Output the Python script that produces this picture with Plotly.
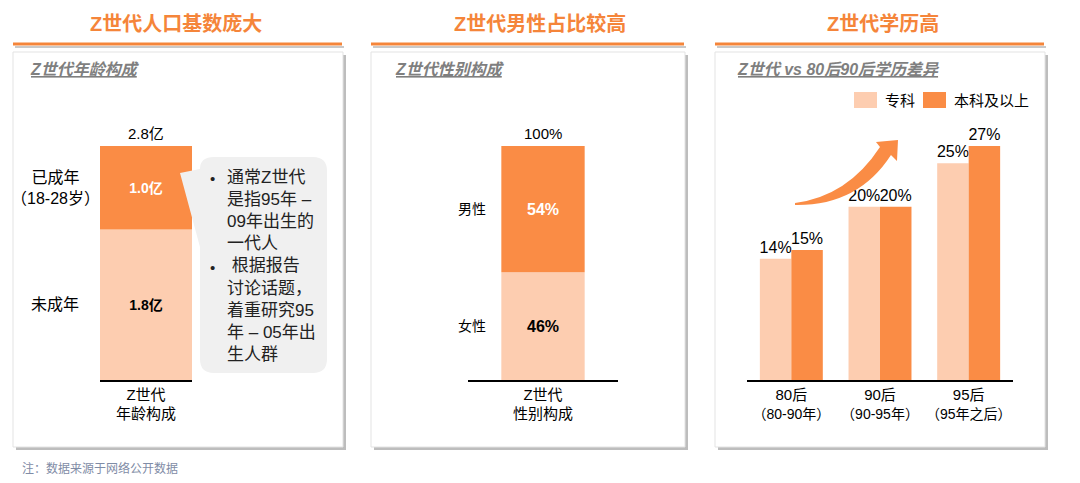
import plotly.graph_objects as go

# the page body keeps its default 8px margin, so the figure is shifted by that much
OFF = 8
W, H = 1080 - OFF, 483 - OFF
FONT = "Liberation Sans, Noto Sans CJK SC, sans-serif"
DARK = "#FA8C45"
LIGHT = "#FDCDB0"
TITLE_ORANGE = "#F5853A"
GREY = "#7F7F7F"

# panel 1: age structure (亿)
age_groups = ["未成年", "已成年"]
age_values = [1.8, 1.0]
age_total = 2.8
age_side_labels = ["未成年", "已成年<br>（18-28岁）"]

# panel 2: gender structure (%)
gender_groups = ["女性", "男性"]
gender_values = [46, 54]
gender_total = 100

# panel 3: education
edu_cats = ["80后", "90后", "95后"]
edu_sub = ["（80-90年）", "（90-95年）", "（95年之后）"]
edu_series = ["专科", "本科及以上"]
edu_zk = [14, 20, 25]
edu_bk = [15, 20, 27]

titles = ["Z世代人口基数庞大", "Z世代男性占比较高", "Z世代学历高"]
subtitles = ["Z世代年龄构成", "Z世代性别构成", "Z世代 vs 80后90后学历差异"]
callout_lines = ["通常Z世代", "是指95年 –", "09年出生的", "一代人",
                 " 根据报告", "讨论话题，", "着重研究95", "年 – 05年出", "生人群"]
note = "注：数据来源于网络公开数据"


def px(x):
    return (x - OFF) / W


def py(y):
    return 1 - (y - OFF) / H


def path(cmds):
    # cmds: list of (letter, [x, y, x, y...]) in page pixels
    out = []
    for c, pts in cmds:
        if c == "Z":
            out.append("Z")
            continue
        coords = []
        for i in range(0, len(pts), 2):
            coords.append(f"{px(pts[i]):.5f},{py(pts[i + 1]):.5f}")
        out.append(c + " ".join(coords))
    return " ".join(out)


def note_at(x, y, text, size, color="black", xanchor="center", **kw):
    fig.add_annotation(x=px(x), y=py(y), xref="paper", yref="paper", showarrow=False,
                       xanchor=xanchor, yanchor="middle", text=text,
                       font=dict(size=size, color=color), **kw)


fig = go.Figure()

# --- panel 1
fig.add_trace(go.Bar(
    x=[0], y=[age_values[0]], width=[1], offset=[-0.5],
    marker=dict(color=LIGHT, line=dict(width=0)),
    text=[f"<b>{age_values[0]:.1f}亿</b>"], textposition="inside",
    insidetextanchor="middle", textfont=dict(size=14, color="black", family=FONT),
    xaxis="x", yaxis="y", showlegend=False, name=age_groups[0]))
fig.add_trace(go.Bar(
    x=[0], y=[age_values[1]], base=[age_values[0]], width=[1], offset=[-0.5],
    marker=dict(color=DARK, line=dict(width=0)),
    text=[f"<b>{age_values[1]:.1f}亿</b>"], textposition="inside",
    insidetextanchor="middle", textfont=dict(size=14, color="white", family=FONT),
    xaxis="x", yaxis="y", showlegend=False, name=age_groups[1]))

# --- panel 2
fig.add_trace(go.Bar(
    x=[0], y=[gender_values[0]], width=[1], offset=[-0.5],
    marker=dict(color=LIGHT, line=dict(width=0)),
    text=[f"<b>{gender_values[0]}%</b>"], textposition="inside",
    insidetextanchor="middle", textfont=dict(size=16, color="black", family=FONT),
    xaxis="x2", yaxis="y2", showlegend=False, name=gender_groups[0]))
fig.add_trace(go.Bar(
    x=[0], y=[gender_values[1]], base=[gender_values[0]], width=[1], offset=[-0.5],
    marker=dict(color=DARK, line=dict(width=0)),
    text=[f"<b>{gender_values[1]}%</b>"], textposition="inside",
    insidetextanchor="middle", textfont=dict(size=16, color="white", family=FONT),
    xaxis="x2", yaxis="y2", showlegend=False, name=gender_groups[1]))

# --- panel 3
for vals, color, name in [(edu_zk, LIGHT, edu_series[0]), (edu_bk, DARK, edu_series[1])]:
    fig.add_trace(go.Bar(
        x=edu_cats, y=vals, name=name,
        marker=dict(color=color, line=dict(width=0)),
        text=[f"{v}%" for v in vals], textposition="outside",
        constraintext="none", cliponaxis=False,
        textfont=dict(size=16, color="black", family=FONT),
        xaxis="x3", yaxis="y3", showlegend=False))

y_dom = [py(380), py(146)]
base_x = dict(showline=True, linecolor="black", linewidth=1.5, showgrid=False,
              zeroline=False, ticks="", tickfont=dict(size=15, color="black", family=FONT),
              fixedrange=True)
base_y = dict(visible=False, showgrid=False, zeroline=False, fixedrange=True)

fig.update_layout(
    width=W, height=H, margin=dict(l=0, r=0, t=0, b=0),
    paper_bgcolor="white", plot_bgcolor="rgba(0,0,0,0)",
    barmode="group", bargap=0.29, bargroupgap=0,
    font=dict(family=FONT, color="black"),
    showlegend=False,
    xaxis=dict(base_x, domain=[px(100), px(192)], range=[-0.5, 0.5],
               tickvals=[0], ticktext=["Z世代<br>年龄构成"], anchor="y"),
    yaxis=dict(base_y, domain=y_dom, range=[0, age_total], anchor="x"),
    xaxis2=dict(base_x, domain=[px(468), px(618)], range=[-0.9, 0.9],
                tickvals=[0], ticktext=["Z世代<br>性别构成"], anchor="y2"),
    yaxis2=dict(base_y, domain=y_dom, range=[0, gender_total], anchor="x2"),
    xaxis3=dict(base_x, domain=[px(747), px(1013)], range=[-0.5, 2.5],
                type="category", tickvals=edu_cats,
                ticktext=[f"{c}<br><span style='font-size:14px'>{s}</span>"
                          for c, s in zip(edu_cats, edu_sub)], anchor="y3"),
    yaxis3=dict(base_y, domain=y_dom, range=[0, max(edu_bk)], anchor="x3"),
)

shapes = []
boxes = [(13, 343), (371, 685), (715, 1045)]
title_x = [176, 540, 883]
sub_x = [28, 393, 735]
for (l, r), tx, sx, title, sub in zip(boxes, title_x, sub_x, titles, subtitles):
    # shadow + panel box
    shapes.append(dict(type="rect", xref="paper", yref="paper", layer="below",
                       x0=px(l + 3), x1=px(r + 3), y0=py(450), y1=py(55),
                       fillcolor="#BDBDBD", line=dict(width=0)))
    shapes.append(dict(type="rect", xref="paper", yref="paper", layer="below",
                       x0=px(l), x1=px(r), y0=py(447), y1=py(52),
                       fillcolor="white", line=dict(color="#E3E3E3", width=1)))
    # title underline
    shapes.append(dict(type="line", xref="paper", yref="paper", layer="below",
                       x0=px(l + 2), x1=px(r + 1), y0=py(47), y1=py(47),
                       line=dict(color="#C9C9C9", width=2)))
    shapes.append(dict(type="line", xref="paper", yref="paper", layer="below",
                       x0=px(l), x1=px(r - 1), y0=py(44), y1=py(44),
                       line=dict(color=TITLE_ORANGE, width=3)))
    note_at(tx, 24, f"<b>{title}</b>", 20, TITLE_ORANGE)
    note_at(sx, 69, f"<span style='text-decoration:underline'><b><i>{sub}</i></b></span>",
            16, GREY, xanchor="left")

# callout bubble (drawn over the bar so the pointer shows)
shapes.append(dict(type="path", xref="paper", yref="paper", layer="above",
                   fillcolor="#F0F0F0", line=dict(width=0),
                   path=path([("M", [214, 157]), ("L", [313, 157]), ("Q", [327, 157, 327, 171]),
                              ("L", [327, 359]), ("Q", [327, 373, 313, 373]), ("L", [214, 373]),
                              ("Q", [200, 373, 200, 359]), ("L", [200, 247]), ("L", [180, 173]),
                              ("L", [200, 169]), ("Q", [200, 157, 214, 157]), ("Z", [])])))
# growth arrow
shapes.append(dict(type="path", xref="paper", yref="paper", layer="above",
                   fillcolor=DARK, line=dict(width=0),
                   path=path([("M", [795, 203]), ("Q", [848, 196, 880, 147]), ("L", [876, 142]),
                              ("L", [898, 140]), ("L", [897, 161]), ("L", [891, 155]),
                              ("Q", [858, 206, 795, 205]), ("Z", [])])))

# legend for panel 3
leg = [(854, edu_series[0], LIGHT), (923, edu_series[1], DARK)]
for x0, name, color in leg:
    shapes.append(dict(type="rect", xref="paper", yref="paper",
                       x0=px(x0), x1=px(x0 + 23), y0=py(108), y1=py(92),
                       fillcolor=color, line=dict(width=0)))
    note_at(x0 + 29, 100, name, 15, xanchor="left")
fig.update_layout(shapes=shapes)

# totals above stacked bars
fig.add_annotation(x=0, y=age_total, xref="x", yref="y", yanchor="bottom", yshift=2,
                   showarrow=False, text=f"{age_total:.1f}亿", font=dict(size=15))
fig.add_annotation(x=0, y=gender_total, xref="x2", yref="y2", yanchor="bottom", yshift=2,
                   showarrow=False, text=f"{gender_total}%", font=dict(size=15))

# side labels
fig.add_annotation(x=px(55), y=age_values[1] / 2 + age_values[0], xref="paper", yref="y",
                   xanchor="center", yanchor="middle", showarrow=False,
                   text=age_side_labels[1], font=dict(size=16))
fig.add_annotation(x=px(55), y=age_values[0] / 2, xref="paper", yref="y",
                   xanchor="center", yanchor="middle", showarrow=False,
                   text=age_side_labels[0], font=dict(size=16))
fig.add_annotation(x=px(472), y=gender_values[0] + gender_values[1] / 2, xref="paper",
                   yref="y2", xanchor="center", yanchor="middle", showarrow=False,
                   text=gender_groups[1], font=dict(size=14))
fig.add_annotation(x=px(472), y=gender_values[0] / 2, xref="paper",
                   yref="y2", xanchor="center", yanchor="middle", showarrow=False,
                   text=gender_groups[0], font=dict(size=14))

# callout text
note_at(225, 266, "<br>".join(callout_lines), 17, "#222222", xanchor="left", align="left")
for yb in (178, 267):
    note_at(212, yb, "•", 15, "#222222")

note_at(20, 468, note, 12, "#7F8CA6", xanchor="left")

fig.write_html("out.html")
